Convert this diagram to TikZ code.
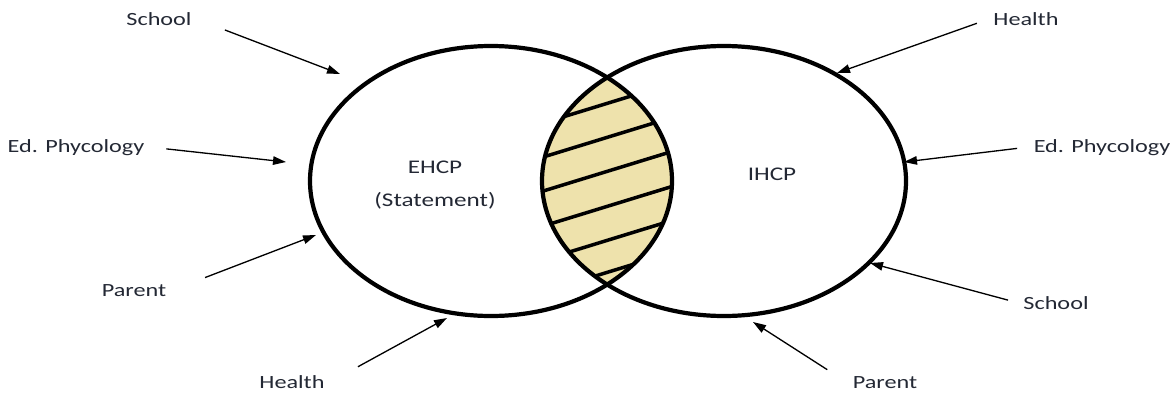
\documentclass[tikz,border=0pt]{standalone}
\usepackage{fontspec}
\setmainfont{Carlito}[FakeStretch=1.3]
\usepackage{tikz}
\usetikzlibrary{arrows.meta, positioning}
\definecolor{lensfill}{RGB}{238,226,172}
\definecolor{tagtext}{RGB}{35,40,52}

\begin{document}
\begin{tikzpicture}[
    x=0.02cm, y=-0.02cm,
    tag/.style={anchor=base, text=tagtext, font=\fontsize{10.6}{13}\selectfont},
    settag/.style={tag, font=\fontsize{11}{13}\selectfont},
    venn/.style={line width=2.4pt},
    hatch/.style={line width=2pt},
    arrow/.style={line width=0.75pt, -{Triangle[length=0.26cm, width=0.17cm]}}
]
\useasboundingbox (0,0) rectangle (1172,392);

\begin{scope}
  \clip (491,181) ellipse [x radius=181, y radius=135];
  \fill [lensfill] (724,181) ellipse [x radius=182, y radius=135];
  \clip (724,181) ellipse [x radius=182, y radius=135];
  \foreach \yy in {103,137,171,206,240,272}
    \draw [hatch] (540,{\yy+21}) -- (680,{\yy-22});
\end{scope}
\draw [venn] (491,181) ellipse [x radius=181, y radius=135];
\draw [venn] (724,181) ellipse [x radius=182, y radius=135];

\node (ehcp) [settag] at (435,173) {EHCP};
\node (stmt) [settag] at (435,206) {(Statement)};
\node (ihcp) [settag] at (772,180) {IHCP};

\node (lschool) [tag] at (159,26) {School};
\node (ledpsy) [tag] at (76,152) {Ed. Phycology};
\node (lparent) [tag] at (134,296) {Parent};
\node (lhealth) [tag] at (292,388) {Health};
\node (rhealth) [tag] at (1026,26) {Health};
\node (redpsy) [tag] at (1102,152) {Ed. Phycology};
\node (rschool) [tag] at (1056,309) {School};
\node (rparent) [tag] at (885,388) {Parent};

\coordinate (tlschool) at (340,74);
\coordinate (tledpsy) at (286,162);
\coordinate (tlparent) at (316,235);
\coordinate (tlhealth) at (447,318);
\coordinate (trhealth) at (837,73);
\coordinate (tredpsy) at (904,162);
\coordinate (trschool) at (870,263);
\coordinate (trparent) at (753,322);

\draw [arrow, shorten <=0.58cm] (lschool.east) -- (tlschool);
\draw [arrow, shorten <=0.32cm] (ledpsy.east) -- (tledpsy);
\draw [arrow, shorten <=0.7cm] (lparent.east) -- (tlparent);
\draw [arrow, shorten <=0.62cm] (lhealth.east) -- (tlhealth);
\draw [arrow, shorten <=0.22cm] (rhealth.west) -- (trhealth);
\draw [arrow, shorten <=0.21cm] (redpsy.west) -- (tredpsy);
\draw [arrow, shorten <=0.19cm] (rschool.west) -- (trschool);
\draw [arrow, shorten <=0.46cm] (rparent.west) -- (trparent);

\end{tikzpicture}
\end{document}
